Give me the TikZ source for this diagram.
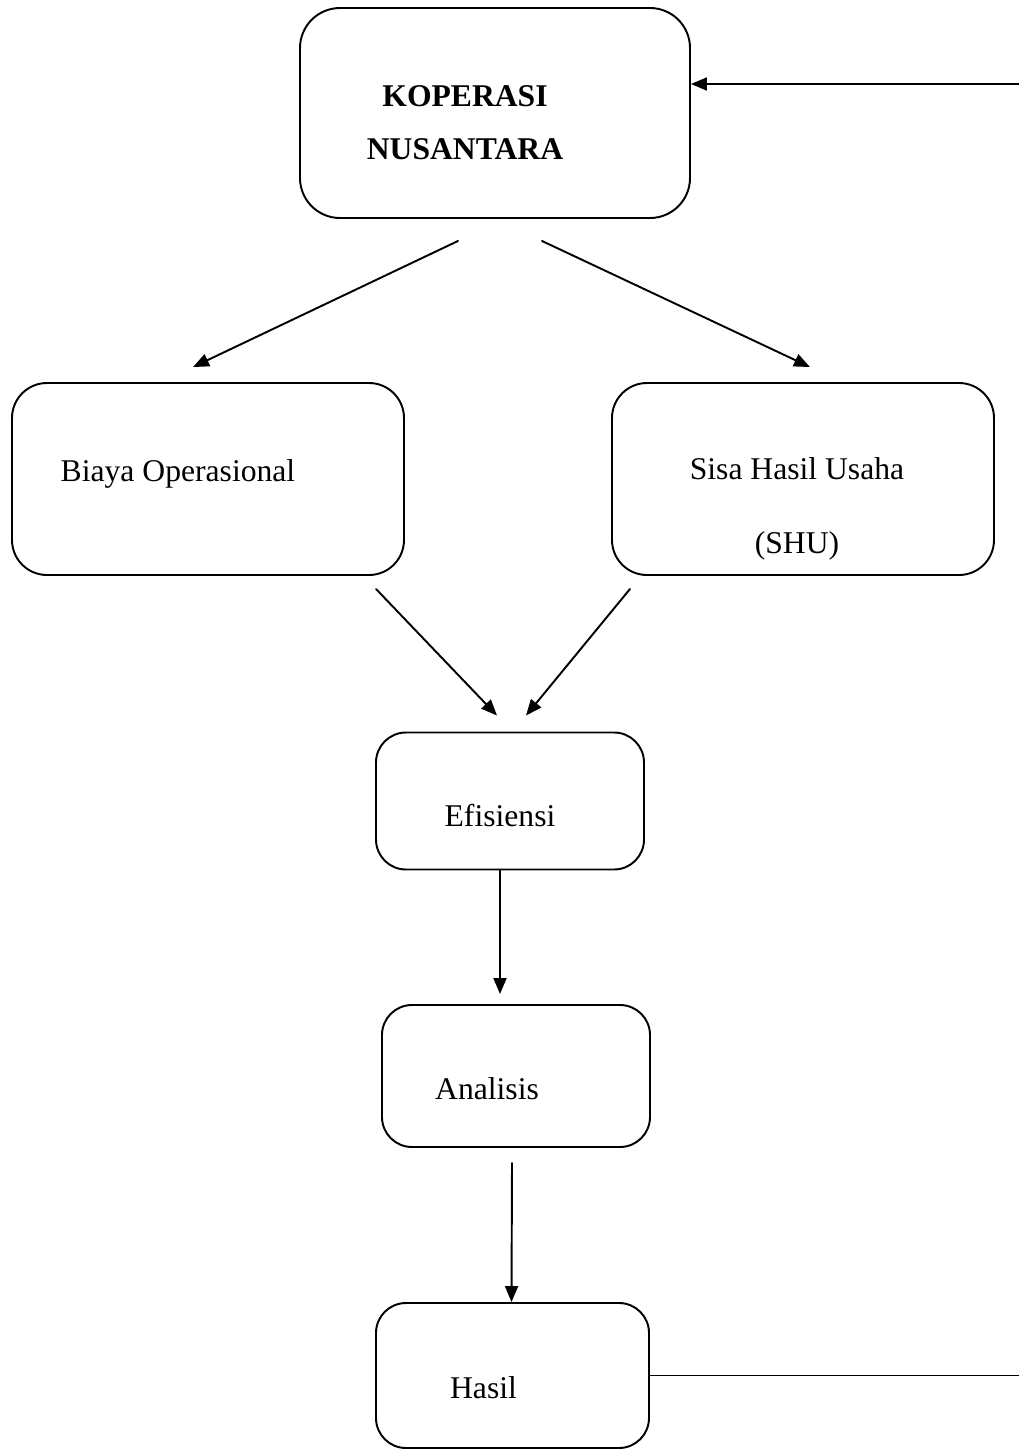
\documentclass[tikz,border=0pt]{standalone}
\usepackage{fontspec}
\setmainfont{Liberation Serif}
\usetikzlibrary{arrows.meta,calc}

\begin{document}
\begin{tikzpicture}[line cap=round,line join=round,
    box/.style={draw,line width=1.1pt,rounded corners=#1},
    box/.default=0.6cm,
    arr/.style={line width=1.1pt,-{Triangle[length=0.32cm,width=0.26cm]}},
    font=\fontsize{18}{30}\selectfont]
  \useasboundingbox (0,0) rectangle (20.38,-29);
  % boxes
  \node[box=0.8cm,minimum width=7.8cm,minimum height=4.2cm,
    label={[xshift=-0.6cm,yshift=-0.2cm,align=center,font=\fontsize{18}{30}\selectfont\bfseries]center:KOPERASI\\NUSANTARA}]
    (kop) at (9.9,-2.26) {};
  \node[box=0.7cm,minimum width=7.84cm,minimum height=3.84cm,
    label={[xshift=-0.6cm,yshift=0.1cm]center:Biaya Operasional}]
    (biaya) at (4.16,-9.58) {};
  \node[box=0.7cm,minimum width=7.64cm,minimum height=3.84cm,
    label={[xshift=-0.12cm,yshift=-0.6cm,align=center,font=\fontsize{18}{42}\selectfont]center:Sisa Hasil Usaha\\(SHU)}]
    (shu) at (16.06,-9.58) {};
  \node[box,minimum width=5.36cm,minimum height=2.74cm,
    label={[xshift=-0.2cm,yshift=-0.3cm]center:Efisiensi}]
    (efi) at (10.2,-16.02) {};
  \node[box,minimum width=5.36cm,minimum height=2.84cm,
    label={[xshift=-0.58cm,yshift=-0.26cm]center:Analisis}]
    (ana) at (10.32,-21.52) {};
  \node[box,minimum width=5.46cm,minimum height=2.9cm,
    label={[xshift=-0.58cm,yshift=-0.24cm]center:Hasil}]
    (hasil) at (10.25,-27.51) {};
  % arrows
  \draw[arr] ([xshift=-0.74cm,yshift=-0.44cm]kop.south) -- ([xshift=-0.3cm,yshift=0.3cm]biaya.north);
  \draw[arr] ([xshift=0.94cm,yshift=-0.44cm]kop.south) -- ([xshift=0.14cm,yshift=0.3cm]shu.north);
  \draw[arr] ([xshift=3.36cm,yshift=-0.26cm]biaya.south) -- ([xshift=-0.26cm,yshift=0.32cm]efi.north);
  \draw[arr] ([xshift=-3.46cm,yshift=-0.26cm]shu.south) -- ([xshift=0.32cm,yshift=0.32cm]efi.north);
  \draw[arr] ([xshift=-0.2cm]efi.south) -- ([xshift=-0.32cm,yshift=0.2cm]ana.north);
  \draw[arr] ([xshift=-0.08cm,yshift=-0.3cm]ana.south) -- ([xshift=-0.02cm]hasil.north);
  % back to the top
  \coordinate (back) at (20.39,-1.68);
  \draw[arr] (hasil.east) -| (back) -- (kop.east |- back);
\end{tikzpicture}
\end{document}
